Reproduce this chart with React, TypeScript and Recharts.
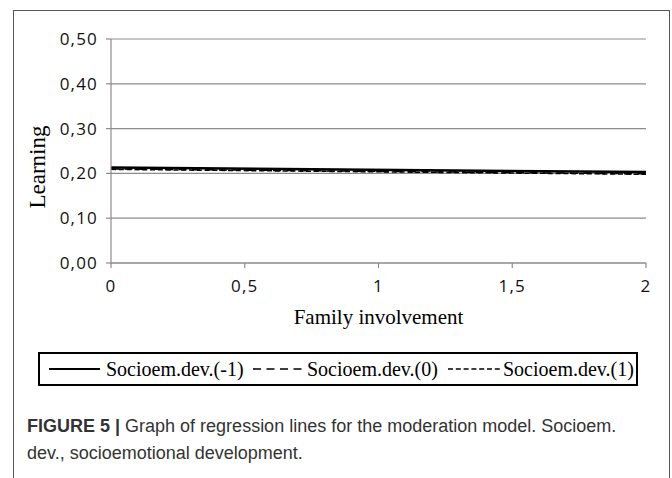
import React from 'react';
import { LineChart, Line, XAxis, YAxis, CartesianGrid } from 'recharts';

const xValues = [0, 2];
const lowSocio = [0.213, 0.203];
const midSocio = [0.21, 0.199];
const highSocio = [0.209, 0.198];
const xTicks = [0, 0.5, 1, 1.5, 2];
const yTicks = [0, 0.1, 0.2, 0.3, 0.4, 0.5];
const seriesNames = ['Socioem.dev.(-1)', 'Socioem.dev.(0)', 'Socioem.dev.(1)'];
const seriesKeys = ['low', 'mid', 'high'];
const seriesDash = ['', '8 5.5', '5 2.8'];
const seriesWidth = [2.5, 1.5, 1.5];

const data = xValues.map((x, i) => ({ x, low: lowSocio[i], mid: midSocio[i], high: highSocio[i] }));

const tickFont = { fontFamily: '"Open Sans"', fontSize: 17, fill: '#111', letterSpacing: 1.2 };
const serif = '"Liberation Serif", "Times New Roman", serif';

const legendPos = [
  { line: 9, lineW: 51, text: 66 },
  { line: 213, lineW: 49, text: 267 },
  { line: 408, lineW: 52, text: 463 },
];

export default function App() {
  return (
    <div style={{ position: 'absolute', left: 0, top: 0, width: 672, height: 478, background: '#fff', overflow: 'hidden' }}>
      <div style={{ position: 'absolute', left: 13, top: 10, width: 655, height: 500, borderLeft: '1px solid #555', borderTop: '1px solid #555', borderRight: '1px solid #555' }} />
      <div style={{ position: 'absolute', left: 0, top: 0 }}>
        <LineChart width={672} height={340} data={data} margin={{ top: 39, right: 26, left: 11, bottom: 47 }}>
          <CartesianGrid vertical={false} stroke="#8c8c8c" strokeWidth={1.2} />
          <XAxis
            dataKey="x"
            type="number"
            domain={[0, 2]}
            ticks={xTicks}
            tickFormatter={(v: number) => String(v).replace('.', ',')}
            tick={tickFont}
            tickSize={5}
            tickMargin={12}
            stroke="#8c8c8c"
            strokeWidth={1.2}
            height={30}
            label={{ value: 'Family involvement', position: 'bottom', offset: 16, style: { fontFamily: serif, fontSize: 21, fill: '#000' } }}
          />
          <YAxis
            type="number"
            domain={[0, 0.5]}
            ticks={yTicks}
            tickFormatter={(v: number) => v.toFixed(2).replace('.', ',')}
            tick={tickFont}
            tickSize={5}
            tickMargin={8}
            stroke="#8c8c8c"
            strokeWidth={1.2}
            width={100}
            label={(props: any) => (
              <text
                x={45}
                y={167}
                transform="rotate(-90 45 167)"
                textAnchor="middle"
                style={{ fontFamily: serif, fontSize: 23, fill: '#000' }}
              >
                Learning
              </text>
            )}
          />
          {[2, 1, 0].map((i) => (
            <Line
              key={seriesKeys[i]}
              dataKey={seriesKeys[i]}
              name={seriesNames[i]}
              stroke="#000"
              strokeWidth={seriesWidth[i]}
              strokeDasharray={seriesDash[i] || undefined}
              dot={false}
              activeDot={false}
              isAnimationActive={false}
            />
          ))}
        </LineChart>
      </div>
      <div style={{ position: 'absolute', left: 38, top: 352, width: 596, height: 30, border: '2px solid #000' }}>
        {seriesNames.map((name, i) => (
          <React.Fragment key={name}>
            <svg style={{ position: 'absolute', left: legendPos[i].line, top: 13 }} width={legendPos[i].lineW} height={4}>
              <line x1={0} y1={2} x2={legendPos[i].lineW} y2={2} stroke="#000" strokeWidth={i === 0 ? 2 : 1.6} strokeDasharray={seriesDash[i] || undefined} />
            </svg>
            <span style={{ position: 'absolute', left: legendPos[i].text, top: 2, fontFamily: serif, fontSize: 20, lineHeight: '26px', whiteSpace: 'nowrap', color: '#000' }}>
              {name}
            </span>
          </React.Fragment>
        ))}
      </div>
      <div style={{ position: 'absolute', left: 27, top: 413, width: 640, fontFamily: '"Liberation Sans", Arial, sans-serif', fontSize: 18, lineHeight: '27px', color: '#333' }}>
        <b>FIGURE 5 |</b> Graph of regression lines for the moderation model. Socioem.
        <br />
        dev., socioemotional development.
      </div>
    </div>
  );
}
